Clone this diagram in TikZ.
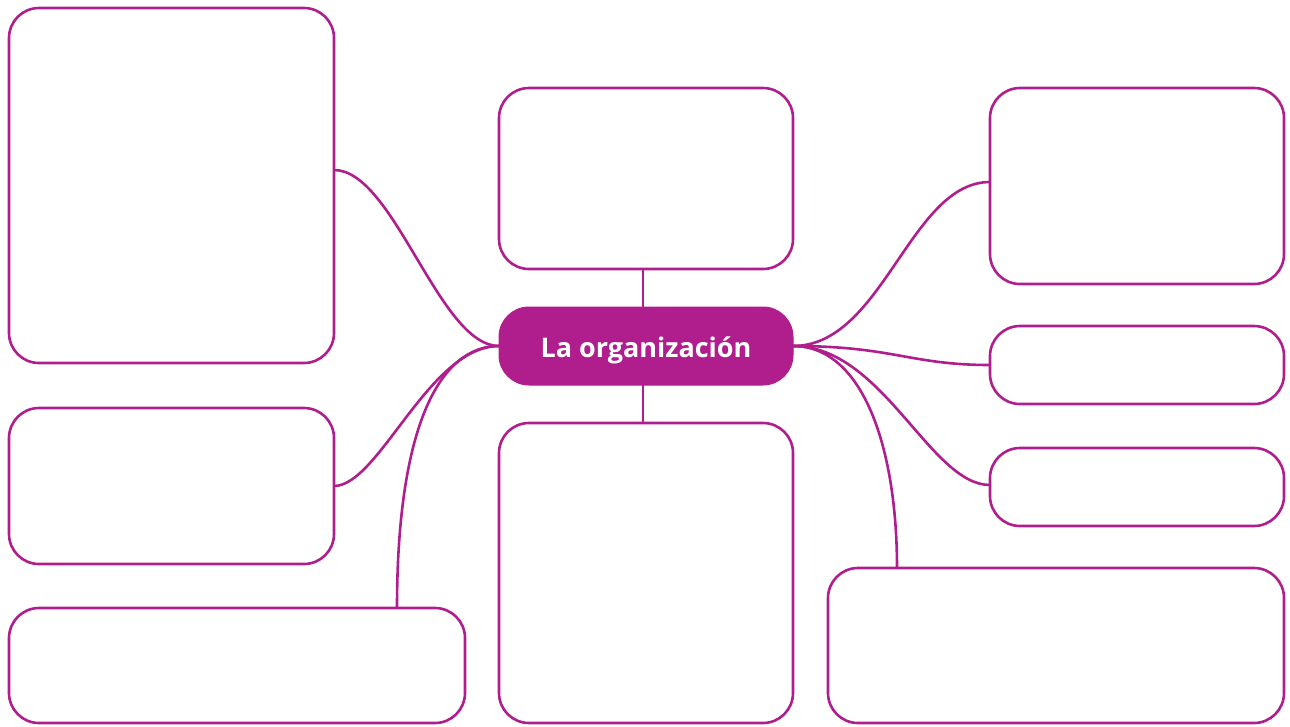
\documentclass[tikz,border=0pt]{standalone}
\usepackage{fontspec}
\setmainfont{Open Sans}
\definecolor{mag}{HTML}{B01E8D}
\begin{document}
\begin{tikzpicture}[x=1pt,y=-1pt,
  box/.style={draw=mag,line width=2.6pt,rounded corners=30pt,rectangle,inner sep=0pt,outer sep=0pt,fill=white},
  hub/.style={fill=mag,draw=mag,line width=1pt,rounded corners=30pt,rectangle,inner sep=0pt,outer sep=0pt,text=white,font=\bfseries\fontsize{27}{32}\selectfont},
  link/.style={draw=mag,line width=2.6pt}]
\useasboundingbox (0,0) rectangle (1290,726);
\node[box,minimum width=325pt,minimum height=355pt] (tl) at (171.5,185.5) {};
\node[box,minimum width=325pt,minimum height=156pt] (ml) at (171.5,486) {};
\node[box,minimum width=456pt,minimum height=115pt] (bl) at (237,665.5) {};
\node[box,minimum width=294pt,minimum height=181pt] (tc) at (646,178.5) {};
\node[hub,minimum width=294pt,minimum height=78pt] (c) at (646,346) {\raisebox{-4.5pt}[\height][\depth]{La organización}};
\node[box,minimum width=294pt,minimum height=300pt] (bc) at (646,573) {};
\node[box,minimum width=294pt,minimum height=196pt] (tr) at (1137,186) {};
\node[box,minimum width=294pt,minimum height=78pt] (rm) at (1137,365) {};
\node[box,minimum width=294pt,minimum height=78pt] (rl) at (1137,487) {};
\node[box,minimum width=456pt,minimum height=155pt] (br) at (1056,645.5) {};
\draw[link] (tc.south -| 643,0) -- (c.north -| 643,0);
\draw[link] (c.south -| 643,0) -- (bc.north -| 643,0);
\draw[link] ([yshift=15.5pt]tl.east) .. controls +(60,0) and +(-60,0) .. (c.west);
\draw[link] (ml.east) .. controls +(45,0) and +(-70,0) .. (c.west);
\draw[link] ([xshift=160pt]bl.north) .. controls +(0,-180) and +(-60,0) .. (c.west);
\draw[link] (c.east) .. controls +(90,0) and +(-80,0) .. ([yshift=4pt]tr.west);
\draw[link] (c.east) .. controls +(100,0) and +(-80,0) .. (rm.west);
\draw[link] (c.east) .. controls +(90,0) and +(-60,0) .. ([yshift=2pt]rl.west);
\draw[link] (c.east) .. controls +(70,0) and +(0,-120) .. ([xshift=-159pt]br.north);
\end{tikzpicture}
\end{document}
